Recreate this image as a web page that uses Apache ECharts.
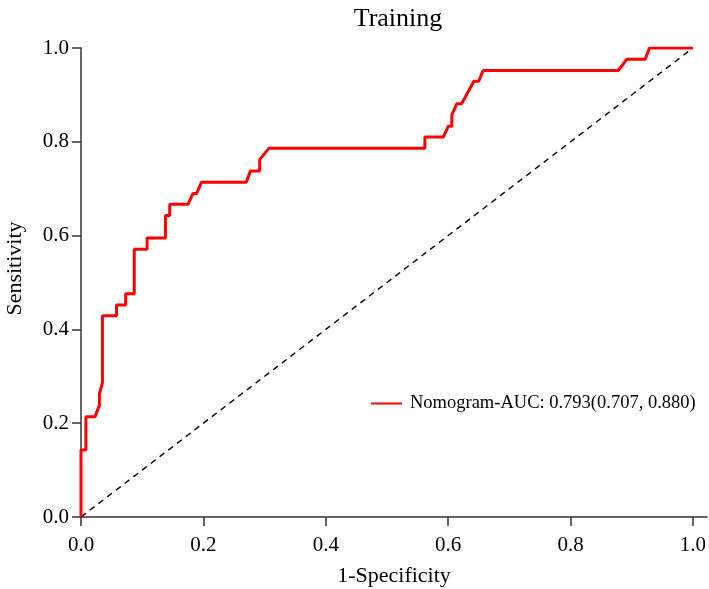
<!DOCTYPE html>
<html>
<head>
<meta charset="utf-8">
<script src="https://cdn.jsdelivr.net/npm/echarts@6/dist/echarts.min.js"></script>
<style>
html,body{margin:0;padding:0;background:#fff;}
#roc{width:709px;height:589px;}
</style>
</head>
<body>
<div id="roc"></div>
<script>
// ROC curve, training set (1-specificity / sensitivity)
var fpr = [0, 0, 0.008, 0.008, 0.023, 0.030, 0.030, 0.035, 0.035, 0.058, 0.058, 0.073, 0.073, 0.087, 0.087,
  0.108, 0.108, 0.138, 0.138, 0.145, 0.145, 0.175, 0.183, 0.189, 0.197, 0.270, 0.277, 0.292, 0.292, 0.307,
  0.562, 0.562, 0.592, 0.600, 0.606, 0.606, 0.614, 0.622, 0.642, 0.650, 0.657, 0.878, 0.892, 0.922, 0.929, 1.0];
var tpr = [0, 0.143, 0.143, 0.214, 0.214, 0.238, 0.262, 0.286, 0.429, 0.429, 0.452, 0.452, 0.476, 0.476, 0.571,
  0.571, 0.595, 0.595, 0.643, 0.643, 0.667, 0.667, 0.690, 0.690, 0.714, 0.714, 0.738, 0.738, 0.762, 0.786,
  0.786, 0.810, 0.810, 0.833, 0.833, 0.857, 0.881, 0.881, 0.929, 0.929, 0.952, 0.952, 0.976, 0.976, 1.0, 1.0];
var refLine = [[0, 0], [1, 1]];
var ticks = [0, 0.2, 0.4, 0.6, 0.8, 1.0];
var modelName = 'Nomogram-AUC: 0.793(0.707, 0.880)';
var chartTitle = 'Training';

var font = "'Liberation Serif','Times New Roman',serif";
var rocData = [];
for (var i = 0; i < fpr.length; i++) {
  rocData.push([fpr[i], tpr[i]]);
}

var chart = echarts.init(document.getElementById('roc'));
var option = {
  animation: false,
  title: {
    text: chartTitle,
    left: 393,
    textAlign: 'center',
    top: 1,
    textStyle: {fontFamily: font, fontSize: 26, fontWeight: 'normal', color: '#000'}
  },
  legend: {
    data: [modelName],
    left: 366,
    top: 389,
    itemWidth: 31,
    itemHeight: 20,
    icon: 'path://M0,9 L31,9 L31,11 L0,11 Z',
    itemStyle: {color: '#ff0000'},
    textStyle: {fontFamily: font, fontSize: 18.5, color: '#000', padding: [0, 0, 0, 3]}
  },
  grid: {left: 81, right: 2, top: 48, bottom: 72, containLabel: false, outerBoundsMode: 'none'},
  xAxis: {
    type: 'value',
    min: 0,
    max: 1.023,
    name: '1-Specificity',
    nameLocation: 'middle',
    nameGap: 48,
    nameTextStyle: {fontFamily: font, fontSize: 22, color: '#000'},
    splitLine: {show: false},
    axisLine: {onZero: false, lineStyle: {color: '#333', width: 1.5}},
    axisTick: {customValues: ticks, length: 9, lineStyle: {color: '#333', width: 1.5}},
    axisLabel: {customValues: ticks, margin: 18, fontFamily: font, fontSize: 21, color: '#000',
      formatter: function (v) { return v.toFixed(1); }}
  },
  yAxis: {
    type: 'value',
    min: 0,
    max: 1,
    interval: 0.2,
    name: 'Sensitivity',
    nameLocation: 'middle',
    nameGap: 55,
    nameTextStyle: {fontFamily: font, fontSize: 22, color: '#000', padding: [0, 0, 0, 28]},
    splitLine: {show: false},
    axisLine: {show: true, lineStyle: {color: '#333', width: 1.5}},
    axisTick: {show: true, length: 9, lineStyle: {color: '#333', width: 1.5}},
    axisLabel: {margin: 12, fontFamily: font, fontSize: 21, color: '#000',
      formatter: function (v) { return v.toFixed(1); }}
  },
  series: [
    {
      name: 'reference',
      type: 'line',
      data: refLine,
      symbol: 'none',
      silent: true,
      lineStyle: {color: '#000', width: 1.4, type: [6, 5]}
    },
    {
      name: modelName,
      type: 'line',
      data: rocData,
      symbol: 'none',
      lineStyle: {color: '#ff0000', width: 3},
      itemStyle: {color: '#ff0000'}
    }
  ]
};
chart.setOption(option);
</script>
</body>
</html>
